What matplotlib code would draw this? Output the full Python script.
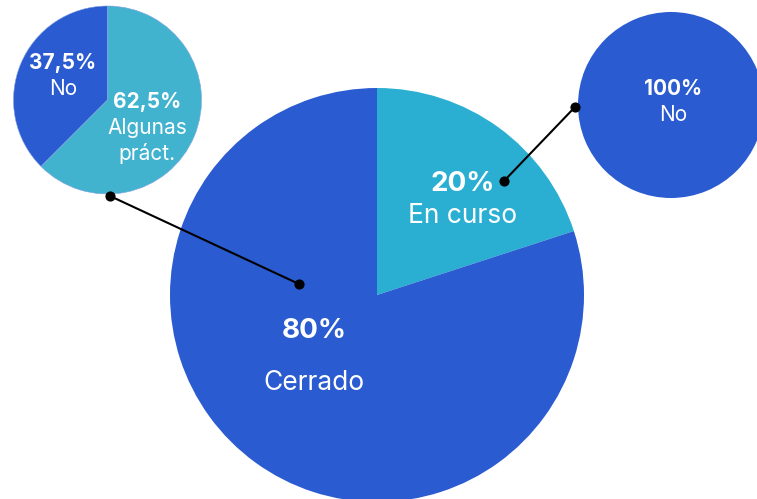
import matplotlib.pyplot as plt

# Estado de los casos
main_labels = ["En curso", "Cerrado"]
main_values = [20, 80]
main_pct = ["20%", "80%"]

# Desglose de "Cerrado"
closed_labels = ["No", "Algunas\npráct."]
closed_values = [37.5, 62.5]
closed_pct = ["37,5%", "62,5%"]

# Desglose de "En curso"
open_labels = ["No"]
open_values = [100]
open_pct = ["100%"]

DARK = "#2a5bd1"
CYAN = "#2aafd3"
CYAN_SMALL = "#42b3cf"

W, H = 757, 499
plt.rcParams['font.family'] = ['Inter', 'DejaVu Sans']

fig = plt.figure(figsize=(W / 100, H / 100), dpi=100)
ax = fig.add_axes([0, 0, 1, 1])


def fy(y):
    # pixel row -> data y (origin at bottom)
    return H - y


# main pie
ax.pie(main_values, colors=[CYAN, DARK], startangle=90, counterclock=False,
       center=(377, fy(295)), radius=207, frame=True)
# left pie (breakdown of Cerrado)
ax.pie(closed_values, colors=[DARK, CYAN_SMALL], startangle=90,
       center=(107.5, fy(100)), radius=94, frame=True,
       wedgeprops=dict(edgecolor="#7fa0e0", linewidth=0.4))
# right pie (breakdown of En curso)
ax.pie(open_values, colors=[DARK], startangle=90,
       center=(671, fy(105)), radius=93, frame=True)

# connectors
for (x0, y0), (x1, y1) in [((110, 196), (299, 284)), ((575, 107), (504, 181))]:
    ax.plot([x0, x1], [fy(y0), fy(y1)], color="black", lw=1.5, zorder=5)
    ax.scatter([x0, x1], [fy(y0), fy(y1)], s=40, color="black", zorder=6)

txt = dict(color="white", ha="center", va="center", zorder=7)

# main pie labels
ax.text(463, fy(184), main_pct[0], fontsize=20, fontweight="bold", **txt)
ax.text(463, fy(216), main_labels[0], fontsize=19, **txt)
ax.text(314, fy(331), main_pct[1], fontsize=20, fontweight="bold", **txt)
ax.text(314, fy(383), main_labels[1], fontsize=19, **txt)

# left pie labels
ax.text(63, fy(63), closed_pct[0], fontsize=15, fontweight="bold", **txt)
ax.text(63, fy(89), closed_labels[0], fontsize=15, **txt)
ax.text(147, fy(102), closed_pct[1], fontsize=15, fontweight="bold", **txt)
ax.text(147, fy(141), closed_labels[1], fontsize=15, linespacing=1.25, **txt)

# right pie labels
ax.text(673, fy(89), open_pct[0], fontsize=15, fontweight="bold", **txt)
ax.text(673, fy(115), open_labels[0], fontsize=15, **txt)

ax.set_xlim(0, W)
ax.set_ylim(0, H)
ax.set_aspect("equal")
ax.axis("off")

fig.savefig("out.png", dpi=100, facecolor="white")
